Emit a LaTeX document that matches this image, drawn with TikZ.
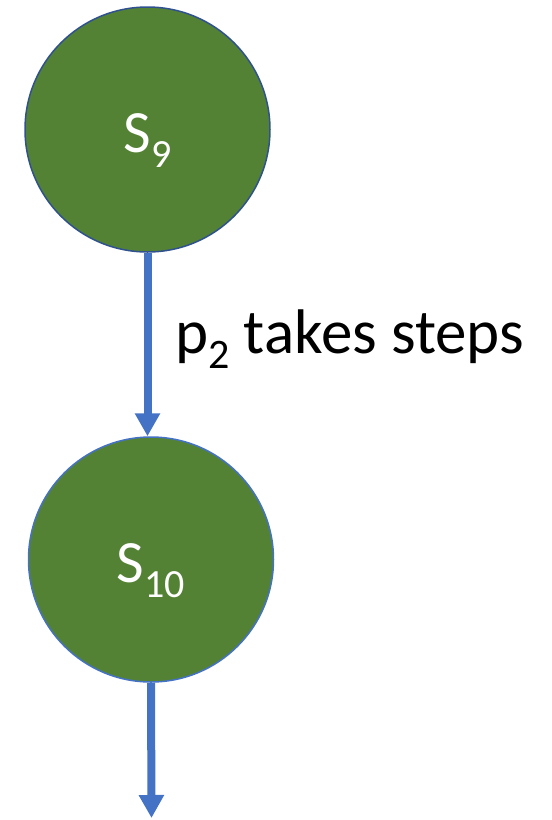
\documentclass[tikz,border=0pt]{standalone}
\usepackage{fontspec}
\setmainfont{Carlito}
\usetikzlibrary{arrows.meta}
\definecolor{stategreen}{HTML}{548235}
\definecolor{darkrim}{HTML}{2F528F}
\definecolor{flowblue}{HTML}{4472C4}
\newcommand{\lowidx}[1]{\raisebox{-0.25em}{\fontsize{40}{40}\selectfont #1}}
\newcommand{\lowcap}[1]{\raisebox{-0.25em}{\fontsize{42}{42}\selectfont #1}}
\begin{document}
\begin{tikzpicture}[x=1pt,y=-1pt,
  state/.style={circle, fill=stategreen, draw=#1, line width=1.5pt,
    minimum size=245pt, inner sep=0pt, text=white,
    text height=45pt, text depth=0pt,
    font=\fontsize{60}{72}\selectfont},
  flow/.style={draw=flowblue, line width=8pt,
    -{Triangle[length=23pt,width=24pt]}},
  caption/.style={font=\fontsize{63}{75}\selectfont, text=black, inner sep=0pt}]
\useasboundingbox (0,0) rectangle (552,820);
% the two states
\node[state=darkrim] (s9) at (147.5,129.5) {S\lowidx{9}};
\node[state=flowblue] (s10) at (151,559.5) {S\lowidx{10}};
% transition and its label
\draw[flow] (s9.south) -- (s9.south |- s10.north);
\node[caption, anchor=base west] (lbl) at (175,353) {p\lowcap{2} takes steps};
% outgoing edge
\coordinate (next) at (151.5,818);
\draw[flow] (s10.south) -- (next);
\end{tikzpicture}
\end{document}
